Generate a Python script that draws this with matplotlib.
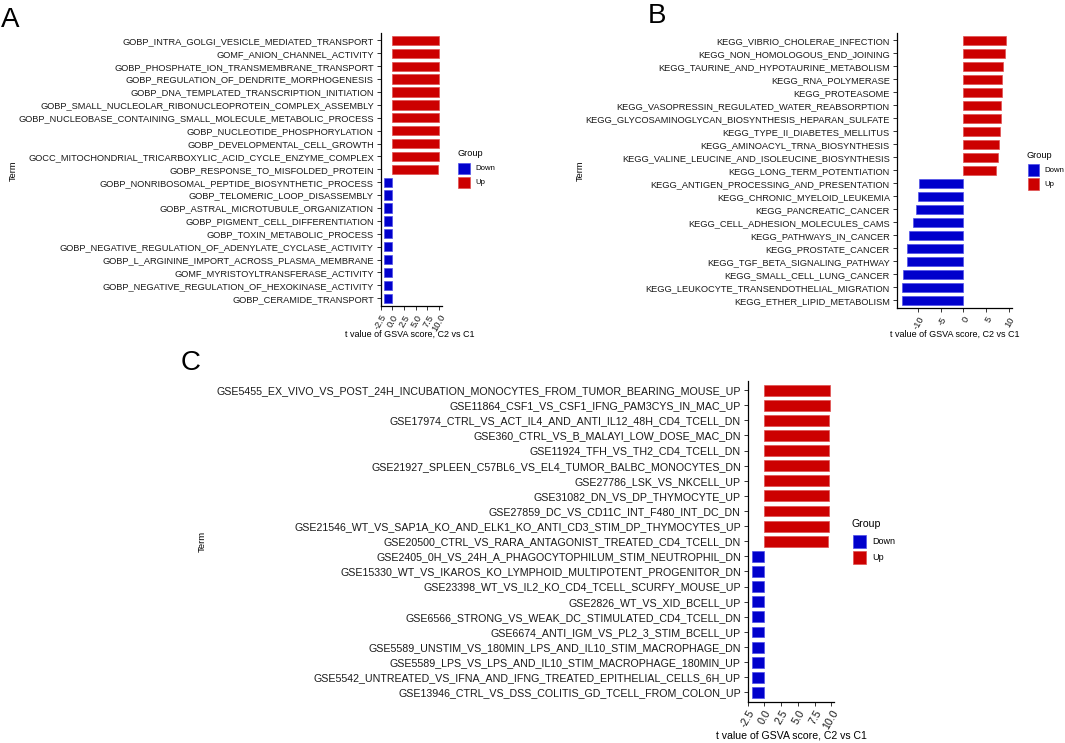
import matplotlib
matplotlib.use("Agg")
import matplotlib.pyplot as plt
from matplotlib.patches import Rectangle

plt.rcParams['font.family'] = ['Liberation Sans', 'DejaVu Sans']
plt.rcParams['axes.unicode_minus'] = False

# ---------------- data ----------------
terms_a = [
    "GOBP_INTRA_GOLGI_VESICLE_MEDIATED_TRANSPORT",
    "GOMF_ANION_CHANNEL_ACTIVITY",
    "GOBP_PHOSPHATE_ION_TRANSMEMBRANE_TRANSPORT",
    "GOBP_REGULATION_OF_DENDRITE_MORPHOGENESIS",
    "GOBP_DNA_TEMPLATED_TRANSCRIPTION_INITIATION",
    "GOBP_SMALL_NUCLEOLAR_RIBONUCLEOPROTEIN_COMPLEX_ASSEMBLY",
    "GOBP_NUCLEOBASE_CONTAINING_SMALL_MOLECULE_METABOLIC_PROCESS",
    "GOBP_NUCLEOTIDE_PHOSPHORYLATION",
    "GOBP_DEVELOPMENTAL_CELL_GROWTH",
    "GOCC_MITOCHONDRIAL_TRICARBOXYLIC_ACID_CYCLE_ENZYME_COMPLEX",
    "GOBP_RESPONSE_TO_MISFOLDED_PROTEIN",
    "GOBP_NONRIBOSOMAL_PEPTIDE_BIOSYNTHETIC_PROCESS",
    "GOBP_TELOMERIC_LOOP_DISASSEMBLY",
    "GOBP_ASTRAL_MICROTUBULE_ORGANIZATION",
    "GOBP_PIGMENT_CELL_DIFFERENTIATION",
    "GOBP_TOXIN_METABOLIC_PROCESS",
    "GOBP_NEGATIVE_REGULATION_OF_ADENYLATE_CYCLASE_ACTIVITY",
    "GOBP_L_ARGININE_IMPORT_ACROSS_PLASMA_MEMBRANE",
    "GOMF_MYRISTOYLTRANSFERASE_ACTIVITY",
    "GOBP_NEGATIVE_REGULATION_OF_HEXOKINASE_ACTIVITY",
    "GOBP_CERAMIDE_TRANSPORT",
]
tval_a = [9.95, 9.94, 9.93, 9.92, 9.91, 9.90, 9.89, 9.88, 9.87, 9.86, 9.85,
          -1.80, -1.81, -1.82, -1.83, -1.84, -1.85, -1.86, -1.87, -1.88, -1.90]
group_a = ["Up"] * 11 + ["Down"] * 10

terms_b = [
    "KEGG_VIBRIO_CHOLERAE_INFECTION",
    "KEGG_NON_HOMOLOGOUS_END_JOINING",
    "KEGG_TAURINE_AND_HYPOTAURINE_METABOLISM",
    "KEGG_RNA_POLYMERASE",
    "KEGG_PROTEASOME",
    "KEGG_VASOPRESSIN_REGULATED_WATER_REABSORPTION",
    "KEGG_GLYCOSAMINOGLYCAN_BIOSYNTHESIS_HEPARAN_SULFATE",
    "KEGG_TYPE_II_DIABETES_MELLITUS",
    "KEGG_AMINOACYL_TRNA_BIOSYNTHESIS",
    "KEGG_VALINE_LEUCINE_AND_ISOLEUCINE_BIOSYNTHESIS",
    "KEGG_LONG_TERM_POTENTIATION",
    "KEGG_ANTIGEN_PROCESSING_AND_PRESENTATION",
    "KEGG_CHRONIC_MYELOID_LEUKEMIA",
    "KEGG_PANCREATIC_CANCER",
    "KEGG_CELL_ADHESION_MOLECULES_CAMS",
    "KEGG_PATHWAYS_IN_CANCER",
    "KEGG_PROSTATE_CANCER",
    "KEGG_TGF_BETA_SIGNALING_PATHWAY",
    "KEGG_SMALL_CELL_LUNG_CANCER",
    "KEGG_LEUKOCYTE_TRANSENDOTHELIAL_MIGRATION",
    "KEGG_ETHER_LIPID_METABOLISM",
]
tval_b = [9.5, 9.1, 8.7, 8.5, 8.5, 8.3, 8.3, 8.1, 7.9, 7.6, 7.2,
          -9.85, -10.1, -10.4, -11.25, -12.05, -12.4, -12.5, -13.4, -13.5, -13.6]
group_b = ["Up"] * 11 + ["Down"] * 10

terms_c = [
    "GSE5455_EX_VIVO_VS_POST_24H_INCUBATION_MONOCYTES_FROM_TUMOR_BEARING_MOUSE_UP",
    "GSE11864_CSF1_VS_CSF1_IFNG_PAM3CYS_IN_MAC_UP",
    "GSE17974_CTRL_VS_ACT_IL4_AND_ANTI_IL12_48H_CD4_TCELL_DN",
    "GSE360_CTRL_VS_B_MALAYI_LOW_DOSE_MAC_DN",
    "GSE11924_TFH_VS_TH2_CD4_TCELL_DN",
    "GSE21927_SPLEEN_C57BL6_VS_EL4_TUMOR_BALBC_MONOCYTES_DN",
    "GSE27786_LSK_VS_NKCELL_UP",
    "GSE31082_DN_VS_DP_THYMOCYTE_UP",
    "GSE27859_DC_VS_CD11C_INT_F480_INT_DC_DN",
    "GSE21546_WT_VS_SAP1A_KO_AND_ELK1_KO_ANTI_CD3_STIM_DP_THYMOCYTES_UP",
    "GSE20500_CTRL_VS_RARA_ANTAGONIST_TREATED_CD4_TCELL_DN",
    "GSE2405_0H_VS_24H_A_PHAGOCYTOPHILUM_STIM_NEUTROPHIL_DN",
    "GSE15330_WT_VS_IKAROS_KO_LYMPHOID_MULTIPOTENT_PROGENITOR_DN",
    "GSE23398_WT_VS_IL2_KO_CD4_TCELL_SCURFY_MOUSE_UP",
    "GSE2826_WT_VS_XID_BCELL_UP",
    "GSE6566_STRONG_VS_WEAK_DC_STIMULATED_CD4_TCELL_DN",
    "GSE6674_ANTI_IGM_VS_PL2_3_STIM_BCELL_UP",
    "GSE5589_UNSTIM_VS_180MIN_LPS_AND_IL10_STIM_MACROPHAGE_DN",
    "GSE5589_LPS_VS_LPS_AND_IL10_STIM_MACROPHAGE_180MIN_UP",
    "GSE5542_UNTREATED_VS_IFNA_AND_IFNG_TREATED_EPITHELIAL_CELLS_6H_UP",
    "GSE13946_CTRL_VS_DSS_COLITIS_GD_TCELL_FROM_COLON_UP",
]
tval_c = [9.83, 9.78, 9.74, 9.73, 9.72, 9.70, 9.68, 9.66, 9.63, 9.60, 9.55,
          -1.80, -1.81, -1.82, -1.83, -1.84, -1.85, -1.86, -1.87, -1.88, -1.90]
group_c = ["Up"] * 11 + ["Down"] * 10

ticks_a = [-2.5, 0.0, 2.5, 5.0, 7.5, 10.0]
ticklabels_a = ["-2.5", "0.0", "2.5", "5.0", "7.5", "10.0"]
ticks_b = [-10, -5, 0, 5, 10]
ticklabels_b = ["-10", "-5", "0", "5", "10"]

groups = ["Down", "Up"]
group_colors = {"Down": "#0000CC", "Up": "#CC0000"}
group_edges = {"Down": "#5050E8", "Up": "#E05050"}

xlabel = "t value of GSVA score, C2 vs C1"
ylabel = "Term"

# ---------------- figure ----------------
W, H = 1065, 743
fig = plt.figure(figsize=(W / 100, H / 100), dpi=100)

TXTC = "#1a1a1a"


def px_axes(left, right, top, bottom):
    return fig.add_axes([left / W, 1 - bottom / H, (right - left) / W, (bottom - top) / H])


def panel(ax, terms, vals, grp, ticks, ticklabels, fs):
    n = len(terms)
    ypos = list(range(n, 0, -1))
    cols = [group_colors[g] for g in grp]
    edges = [group_edges[g] for g in grp]
    ax.barh(ypos, vals, height=0.72, color=cols, edgecolor=edges, linewidth=0.5)
    ax.set_yticks(ypos)
    ax.set_yticklabels(terms, fontsize=fs, color=TXTC)
    ax.set_ylim(0.4, n + 0.6)
    lo, hi = min(min(vals), 0), max(max(vals), 0)
    pad = (hi - lo) * 0.05
    ax.set_xlim(lo - pad, hi + pad)
    ax.set_xticks(ticks)
    ax.set_xticklabels(ticklabels, fontsize=fs, color=TXTC, rotation=60,
                       ha="right", va="top", rotation_mode="anchor")
    for s in ("top", "right"):
        ax.spines[s].set_visible(False)
    for s in ("left", "bottom"):
        ax.spines[s].set_linewidth(0.9)
    ax.tick_params(axis="both", length=3, width=0.7, color="#333333", pad=2)
    ax.set_facecolor("white")


def legend(xl, ytitle, ydown, yup, xtext, key, fs_title, fs_text):
    fig.text(xl / W, 1 - ytitle / H, "Group", fontsize=fs_title, va="center", ha="left")
    for g, yc in zip(groups, (ydown, yup)):
        fig.add_artist(Rectangle(((xl + 1) / W, 1 - (yc + key / 2) / H), key / W, key / H,
                                 transform=fig.transFigure, facecolor=group_colors[g],
                                 edgecolor=group_edges[g], linewidth=0.5))
        fig.text(xtext / W, 1 - yc / H, g, fontsize=fs_text, va="center", ha="left")


def panel_letter(x, ybase, s):
    fig.text(x / W, 1 - ybase / H, s, fontsize=20, ha="left", va="baseline")


# Panel A
axA = px_axes(380.7, 441.7, 32.7, 306)
panel(axA, terms_a, tval_a, group_a, ticks_a, ticklabels_a, 6.65)
fig.text(410 / W, 1 - 334.7 / H, xlabel, fontsize=6.5, ha="center", va="center")
fig.text(13 / W, 1 - 171 / H, ylabel, fontsize=6.7, rotation=90, ha="center", va="center")
panel_letter(1, 27, "A")
legend(457, 153, 168.5, 182.5, 475, 11.5, 6.6, 5.6)

# Panel B
axB = px_axes(896.7, 1011.7, 32.7, 308)
panel(axB, terms_b, tval_b, group_b, ticks_b, ticklabels_b, 6.65)
fig.text(954.5 / W, 1 - 334.7 / H, xlabel, fontsize=6.5, ha="center", va="center")
fig.text(580 / W, 1 - 171 / H, ylabel, fontsize=6.7, rotation=90, ha="center", va="center")
panel_letter(648, 23, "B")
legend(1026.7, 155, 170, 184, 1044, 11.5, 6.6, 5.6)

# Panel C
axC = px_axes(747.7, 834, 381, 701.5)
panel(axC, terms_c, tval_c, group_c, ticks_a, ticklabels_a, 7.7)
fig.text(791 / W, 1 - 735 / H, xlabel, fontsize=7.6, ha="center", va="center")
fig.text(202 / W, 1 - 541 / H, ylabel, fontsize=6.8, rotation=90, ha="center", va="center")
panel_letter(181, 370, "C")
legend(851.7, 524, 541.7, 557, 872.3, 13, 7.6, 6.5)

fig.savefig("out.png", dpi=100, facecolor="white")
